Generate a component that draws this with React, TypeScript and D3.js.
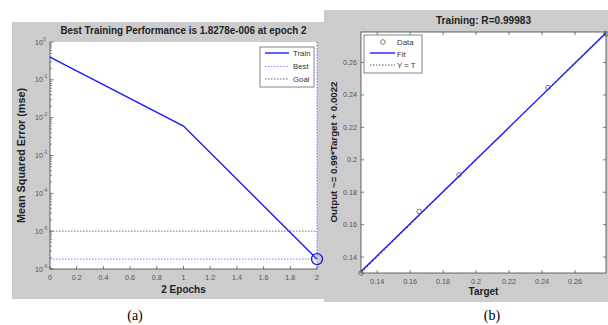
import React from 'react';
import * as d3 from 'd3';

// ---------- Panel (a): training performance ----------
const epochs = [0, 1, 2];
const trainPerf = [0.4, 0.006, 1.8278e-6];
const bestEpoch = 2;
const bestPerf = 1.8278e-6;
const goalPerf = 1e-5;
const epochTicks = [0, 0.2, 0.4, 0.6, 0.8, 1, 1.2, 1.4, 1.6, 1.8, 2];
const epochTickLabels = ['0', '0.2', '0.4', '0.6', '0.8', '1', '1.2', '1.4', '1.6', '1.8', '2'];
const perfExponents = [0, -1, -2, -3, -4, -5, -6];
const perfTitle = 'Best Training Performance is 1.8278e-006 at epoch 2';
const perfXLabel = '2 Epochs';
const perfYLabel = 'Mean Squared Error  (mse)';
const perfLegend = ['Train', 'Best', 'Goal'];

// ---------- Panel (b): regression ----------
const targets = [0.1303, 0.1655, 0.1897, 0.2436, 0.2788];
const outputs = [0.1302, 0.1681, 0.1907, 0.2445, 0.2777];
const fitSlope = 0.99;
const fitIntercept = 0.0022;
const regTicks = [0.14, 0.16, 0.18, 0.2, 0.22, 0.24, 0.26];
const regTickLabels = ['0.14', '0.16', '0.18', '0.2', '0.22', '0.24', '0.26'];
const regTitle = 'Training: R=0.99983';
const regXLabel = 'Target';
const regYLabel = 'Output ~= 0.99*Target + 0.0022';
const regLegend = ['Data', 'Fit', 'Y = T'];

const FONT = '"Liberation Sans", Arial, sans-serif';
const GRAY = '#cccccc';
const BLUE = '#1a1aff';
const TICKC = '#444';

function PanelA() {
  const x = d3.scaleLinear().domain([0, 2]).range([50, 317]);
  const y = d3.scaleLog().domain([1e-6, 1]).range([269, 42]);
  const line = d3.line<number>().x((_, i) => x(epochs[i])).y((d) => y(d));
  const minor: number[] = [];
  for (let e = -6; e < 0; e++) for (let m = 2; m <= 9; m++) minor.push(m * Math.pow(10, e));
  const [x0, x1] = x.range();
  const [yb, yt] = y.range();
  return (
    <g>
      <rect x={12} y={22} width={312} height={277} fill={GRAY} />
      <rect x={x0} y={yt} width={x1 - x0} height={yb - yt} fill="#fff" />
      <text x={(x0 + x1) / 2} y={33.5} textAnchor="middle" fontSize={10.8} fontWeight="bold" fill="#222" fontFamily={FONT} textLength={246} lengthAdjust="spacingAndGlyphs">{perfTitle}</text>
      {/* goal & best lines */}
      <line x1={x0} x2={x1} y1={y(goalPerf)} y2={y(goalPerf)} stroke="#666" strokeWidth={0.9} strokeDasharray="1.5,1.5" />
      <line x1={x0} x2={x1} y1={y(bestPerf)} y2={y(bestPerf)} stroke="#6a6aff" strokeWidth={0.9} strokeDasharray="1.5,1.5" />
      <line x1={x(bestEpoch)} x2={x(bestEpoch)} y1={yt} y2={yb} stroke="#6a6aff" strokeWidth={0.9} strokeDasharray="1.5,1.5" />
      {/* axes */}
      <line x1={x0} x2={x0} y1={yt} y2={yb} stroke={TICKC} strokeWidth={0.8} />
      <line x1={x0} x2={x1} y1={yb} y2={yb} stroke={TICKC} strokeWidth={0.8} />
      {epochTicks.map((t, i) => (
        <g key={'xt' + i}>
          <line x1={x(t)} x2={x(t)} y1={yb} y2={yb - 3} stroke={TICKC} strokeWidth={0.7} />
          <text x={x(t)} y={yb + 11} textAnchor="middle" fontSize={7.2} fill="#555" fontFamily={FONT}>{epochTickLabels[i]}</text>
        </g>
      ))}
      {minor.map((m, i) => (
        <line key={'mn' + i} x1={x0} x2={x0 + 2} y1={y(m)} y2={y(m)} stroke={TICKC} strokeWidth={0.6} />
      ))}
      {perfExponents.map((e) => (
        <g key={'yt' + e}>
          <line x1={x0} x2={x0 + 3.5} y1={y(Math.pow(10, e))} y2={y(Math.pow(10, e))} stroke={TICKC} strokeWidth={0.7} />
          <text x={x0 - 7} y={y(Math.pow(10, e)) + 2.5} textAnchor="end" fontSize={7.2} fill="#555" fontFamily={FONT}>10</text>
          <text x={x0 - 6.8} y={y(Math.pow(10, e)) - 1.5} textAnchor="start" fontSize={4.5} fill="#555" fontFamily={FONT}>{String(e)}</text>
        </g>
      ))}
      {/* train line */}
      <path d={line(trainPerf) || ''} fill="none" stroke={BLUE} strokeWidth={1.4} />
      <circle cx={x(bestEpoch)} cy={y(bestPerf)} r={5.5} fill="none" stroke="#2222cc" strokeWidth={1.4} />
      {/* labels */}
      <text x={(x0 + x1) / 2} y={293} textAnchor="middle" fontSize={10} fontWeight="bold" fill="#222" fontFamily={FONT}>{perfXLabel}</text>
      <text transform={`translate(25,${(88 + 223) / 2}) rotate(-90)`} textAnchor="middle" fontSize={10} fontWeight="bold" fill="#222" fontFamily={FONT} textLength={135} lengthAdjust="spacingAndGlyphs">{perfYLabel}</text>
      {/* legend */}
      <rect x={260} y={47} width={54} height={40} fill="#fff" stroke="#666" strokeWidth={0.8} />
      <line x1={265} x2={289} y1={53} y2={53} stroke={BLUE} strokeWidth={1.4} />
      <line x1={265} x2={289} y1={66.5} y2={66.5} stroke="#8080ff" strokeWidth={0.9} strokeDasharray="1.5,1.5" />
      <line x1={265} x2={289} y1={79} y2={79} stroke="#555" strokeWidth={0.9} strokeDasharray="1.5,1.5" />
      {perfLegend.map((l, i) => (
        <text key={l} x={293} y={56 + i * 13} fontSize={7.8} fill="#333" fontFamily={FONT}>{l}</text>
      ))}
    </g>
  );
}

function PanelB() {
  const lo = Math.min(d3.min(targets)!, d3.min(outputs)!);
  const hi = Math.max(d3.max(targets)!, d3.max(outputs)!);
  const x = d3.scaleLinear().domain([lo, hi]).range([361, 606]);
  const y = d3.scaleLinear().domain([lo, hi]).range([273, 32]);
  const [x0, x1] = x.range();
  const [yb, yt] = y.range();
  const fitLine = d3.line<number>().x((t) => x(t)).y((t) => y(fitSlope * t + fitIntercept));
  const idLine = d3.line<number>().x((t) => x(t)).y((t) => y(t));
  return (
    <g>
      <rect x={324} y={10} width={284} height={292} fill={GRAY} />
      <rect x={x0} y={yt} width={x1 - x0} height={yb - yt} fill="#fff" stroke={TICKC} strokeWidth={0.8} />
      <text x={(x0 + x1) / 2} y={23.5} textAnchor="middle" fontSize={10.2} fontWeight="bold" fill="#222" fontFamily={FONT} textLength={95} lengthAdjust="spacingAndGlyphs">{regTitle}</text>
      {regTicks.map((t, i) => (
        <g key={'t' + i}>
          <line x1={x(t)} x2={x(t)} y1={yb} y2={yb - 3} stroke={TICKC} strokeWidth={0.7} />
          <line x1={x(t)} x2={x(t)} y1={yt} y2={yt + 3} stroke={TICKC} strokeWidth={0.7} />
          <text x={x(t)} y={yb + 11} textAnchor="middle" fontSize={7.2} fill="#555" fontFamily={FONT}>{regTickLabels[i]}</text>
          <line x1={x0} x2={x0 + 3} y1={y(t)} y2={y(t)} stroke={TICKC} strokeWidth={0.7} />
          <line x1={x1} x2={x1 - 3} y1={y(t)} y2={y(t)} stroke={TICKC} strokeWidth={0.7} />
          <text x={x0 - 4} y={y(t) + 2.5} textAnchor="end" fontSize={7.2} fill="#555" fontFamily={FONT}>{regTickLabels[i]}</text>
        </g>
      ))}
      <path d={idLine([lo, hi]) || ''} fill="none" stroke="#333" strokeWidth={0.8} strokeDasharray="2,2" />
      <path d={fitLine([lo, hi]) || ''} fill="none" stroke={BLUE} strokeWidth={1.4} />
      {targets.map((t, i) => (
        <circle key={'p' + i} cx={x(t)} cy={y(outputs[i])} r={2.3} fill="none" stroke="#555" strokeWidth={0.8} />
      ))}
      <text x={(x0 + x1) / 2} y={295} textAnchor="middle" fontSize={10} fontWeight="bold" fill="#222" fontFamily={FONT}>{regXLabel}</text>
      <text transform={`translate(337,152) rotate(-90)`} textAnchor="middle" fontSize={9.8} fontWeight="bold" fill="#222" fontFamily={FONT} textLength={141} lengthAdjust="spacingAndGlyphs">{regYLabel}</text>
      {/* legend */}
      <rect x={364} y={35} width={58} height={38} fill="#fff" stroke="#666" strokeWidth={0.8} />
      <circle cx={383} cy={42} r={2.3} fill="none" stroke="#555" strokeWidth={0.8} />
      <line x1={370} x2={395} y1={53} y2={53} stroke={BLUE} strokeWidth={1.4} />
      <line x1={370} x2={395} y1={65} y2={65} stroke="#333" strokeWidth={0.8} strokeDasharray="1.5,1.5" />
      {regLegend.map((l, i) => (
        <text key={l} x={397} y={45 + i * 11.5} fontSize={7.8} fill="#333" fontFamily={FONT}>{l}</text>
      ))}
    </g>
  );
}

export default function App() {
  return (
    <svg width={608} height={325} style={{ position: 'absolute', left: 0, top: 0, background: '#fff' }}>
      <PanelA />
      <PanelB />
      <text x={135} y={320} textAnchor="middle" fontSize={14} fill="#000" fontFamily='"Liberation Serif", "Times New Roman", serif'>(a)</text>
      <text x={492} y={320} textAnchor="middle" fontSize={14} fill="#000" fontFamily='"Liberation Serif", "Times New Roman", serif'>(b)</text>
    </svg>
  );
}
